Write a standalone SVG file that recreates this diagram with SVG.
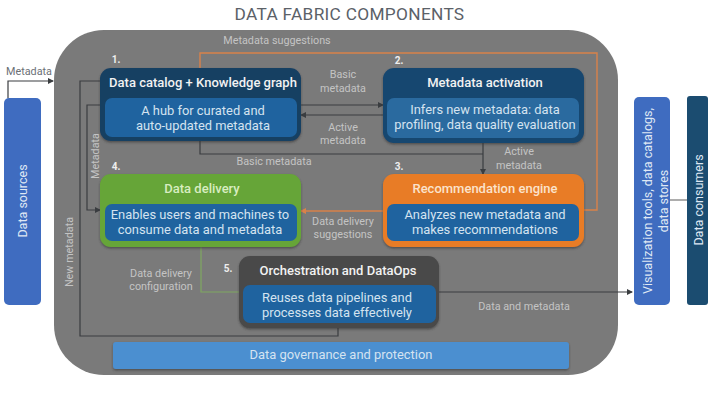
<svg xmlns="http://www.w3.org/2000/svg" width="720" height="404" viewBox="0 0 720 404">
<style>
text{font-family:Roboto,"Liberation Sans",sans-serif;text-anchor:middle}
.lb{font-size:10.8px;fill:#c4c4c4}
.ti{font-size:13px;font-weight:500;fill:#f2f2f2}
.bd{font-size:12.9px;fill:#d5e3f0}
.nm{font-size:10px;font-weight:700;fill:#eeeeee}
.dk{fill:none;stroke:#3a3d40;stroke-width:1.2}
.or{fill:none;stroke:#d9824a;stroke-width:1.4}
.gr{fill:none;stroke:#7fa860;stroke-width:1.2}
.in{fill:#1f639f}
.sd{font-size:12.5px;fill:#dfe8f4}
.bx{filter:url(#s)}
</style>
<defs>
<filter id="s" x="-5%" y="-10%" width="110%" height="125%"><feDropShadow dx="0" dy="1.5" stdDeviation="1" flood-color="#333" flood-opacity=".6"/></filter>
<marker id="a" markerWidth="7" markerHeight="7" refX="5" refY="3" orient="auto" markerUnits="userSpaceOnUse"><path d="M0 0L6 3L0 6Z" fill="#3a3d40"/></marker>
<marker id="o" markerWidth="7" markerHeight="7" refX="5" refY="3" orient="auto" markerUnits="userSpaceOnUse"><path d="M0 0L6 3L0 6Z" fill="#d9824a"/></marker>
</defs>
<rect width="720" height="404" fill="#fff"/>
<text x="349.500" y="20" font-size="17.300" fill="#5b6168" letter-spacing=".3">DATA FABRIC COMPONENTS</text>
<rect id="fabric" x="54" y="30" width="564" height="345" rx="50" fill="#7a7a7a"/>
<g id="connectors">
<path class="or" d="M200 68V53H597V210H387"/>
<path class="or" d="M383 211H301" marker-end="url(#o)"/>
<path class="dk" d="M8 98V81H53" marker-end="url(#a)"/>
<path class="dk" d="M100 81H80V336H338V328"/>
<path class="dk" d="M100 105H87V210H100" marker-end="url(#a)"/>
<path class="dk" d="M301 105H383" marker-end="url(#a)"/>
<path class="dk" d="M383 115H301" marker-end="url(#a)"/>
<path class="dk" d="M200 141V154H483"/>
<path class="dk" d="M483 143V174" marker-end="url(#a)"/>
<path class="gr" d="M201 247V292H239"/>
<path class="dk" d="M439 292H632" marker-end="url(#a)"/>
<path d="M670 200H687" fill="none" stroke="#8a8a8a" stroke-width="1.4"/>
</g>
<g id="sources"><rect x="4" y="98" width="37" height="207" rx="5" fill="#3f6cc0"/>
<text class="sd" transform="translate(27 201) rotate(-90)">Data sources</text></g>
<g id="catalog"><text class="nm" x="116" y="63">1.</text>
<rect class="bx" x="100" y="68" width="201" height="73" rx="11" fill="#173f62"/>
<rect class="in" x="105" y="98" width="192" height="39" rx="7"/>
<text class="ti" x="203" y="87">Data catalog + Knowledge graph</text>
<text class="bd" x="203" y="115">A hub for curated and</text>
<text class="bd" x="203" y="130">auto-updated metadata</text></g>
<g id="activation"><text class="nm" x="399" y="64">2.</text>
<rect class="bx" x="383" y="68" width="201" height="75" rx="11" fill="#16466f"/>
<rect x="387" y="98" width="192" height="40" rx="7" fill="#2a6a9f"/>
<text class="ti" x="485" y="87">Metadata activation</text>
<text class="bd" x="485" y="114">Infers new metadata: data</text>
<text class="bd" x="485" y="129">profiling, data quality evaluation</text></g>
<g id="engine"><text class="nm" x="399" y="170">3.</text>
<rect class="bx" x="383" y="174" width="201" height="73" rx="11" fill="#e87c25"/>
<rect class="in" x="387" y="204" width="192" height="37" rx="7"/>
<text class="ti" x="485" y="193" style="fill:#fbe3cc">Recommendation engine</text>
<text class="bd" x="485" y="219">Analyzes new metadata and</text>
<text class="bd" x="485" y="234">makes recommendations</text></g>
<g id="delivery"><text class="nm" x="116" y="170">4.</text>
<rect class="bx" x="100" y="174" width="201" height="73" rx="11" fill="#66a537"/>
<rect class="in" x="105" y="204" width="192" height="37" rx="7"/>
<text class="ti" x="202" y="193" style="fill:#d8edc0">Data delivery</text>
<text class="bd" x="200" y="219">Enables users and machines to</text>
<text class="bd" x="200" y="234">consume data and metadata</text></g>
<g id="orchestration"><text class="nm" x="228" y="272">5.</text>
<rect class="bx" x="239" y="256" width="200" height="72" rx="11" fill="#484848"/>
<rect class="in" x="243" y="285" width="193" height="38" rx="7"/>
<text class="ti" x="338" y="275">Orchestration and DataOps</text>
<text class="bd" x="337" y="302">Reuses data pipelines and</text>
<text class="bd" x="337" y="317">processes data effectively</text></g>
<g id="governance"><rect class="bx" x="113" y="342" width="456" height="27" rx="3" fill="#4c8fd0"/>
<text class="bd" x="341" y="359">Data governance and protection</text></g>
<g id="viz"><rect x="634" y="97" width="36" height="208" rx="5" fill="#3f6cc0"/>
<text class="sd" transform="translate(652 201) rotate(-90)">Visualization tools, data catalogs,</text>
<text class="sd" transform="translate(668 201) rotate(-90)">data stores</text></g>
<g id="consumers"><rect x="687" y="96" width="21" height="209" rx="3" fill="#1b4c70"/>
<text class="sd" transform="translate(703 200) rotate(-90)">Data consumers</text></g>
<g id="labels">
<text class="lb" x="29" y="75" style="fill:#6b7076">Metadata</text>
<text class="lb" x="277" y="44">Metadata suggestions</text>
<text class="lb" x="343" y="78">Basic</text><text class="lb" x="343" y="92">metadata</text>
<text class="lb" x="343" y="131">Active</text><text class="lb" x="343" y="144">metadata</text>
<text class="lb" x="274" y="165">Basic metadata</text>
<text class="lb" x="519" y="155">Active</text><text class="lb" x="519" y="169">metadata</text>
<text class="lb" x="343" y="225">Data delivery</text><text class="lb" x="343" y="238">suggestions</text>
<text class="lb" x="161" y="277">Data delivery</text><text class="lb" x="161" y="290">configuration</text>
<text class="lb" x="524" y="310">Data and metadata</text>
<text class="lb" transform="translate(99 156) rotate(-90)">Metadata</text>
<text class="lb" transform="translate(73 252) rotate(-90)">New metadata</text>
</g>
</svg>
